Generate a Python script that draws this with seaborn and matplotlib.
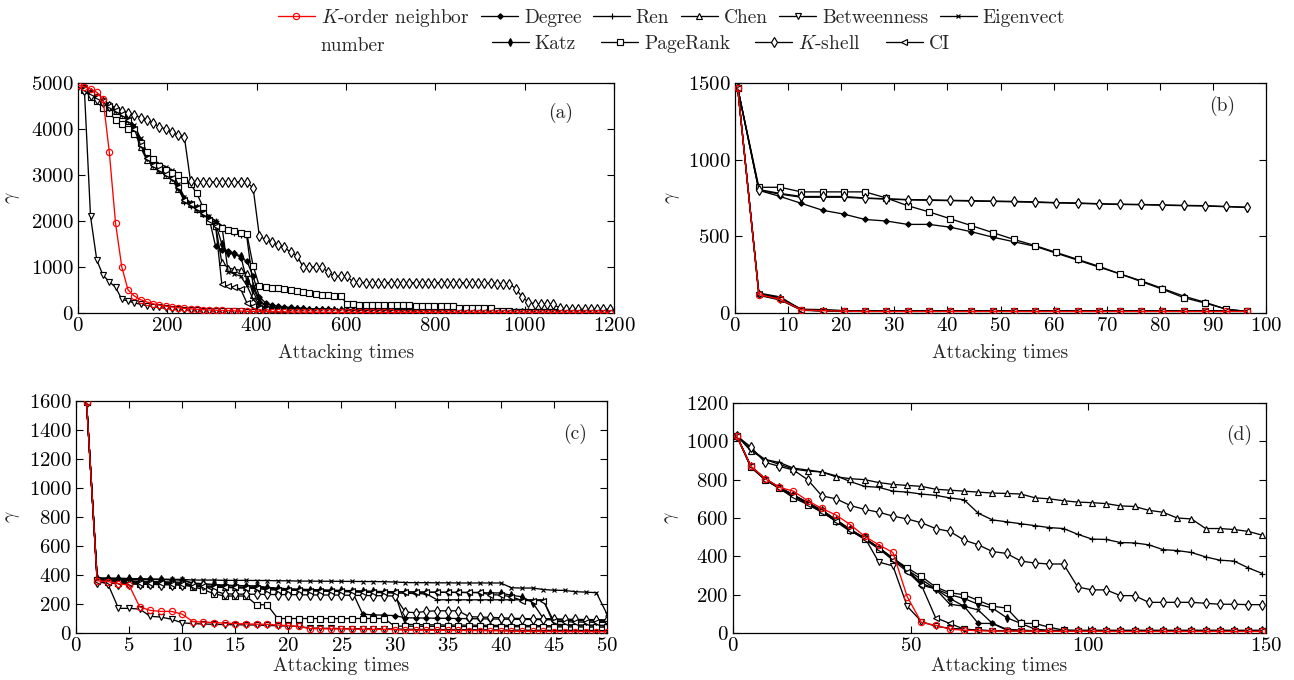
import numpy as np
import pandas as pd
import matplotlib
matplotlib.use("Agg")
import matplotlib.pyplot as plt
import seaborn as sns

# ---------------------------------------------------------------- data
METHODS = ["K-order", "Degree", "Ren", "Chen", "Betweenness",
           "Eigenvect", "Katz", "PageRank", "K-shell", "CI"]

# (a) attacks sampled every 14 steps
A_T = np.arange(0, 1191, 14)
A_KORDER = [4950, 4920, 4870, 4800, 4650, 3500, 1950, 1000, 500, 370,
            290, 240, 200, 170, 150, 130, 115, 100, 90, 80,
            72, 65, 60, 55, 50, 46, 42, 38, 35, 32,
            30, 28, 26, 24, 22, 21, 20, 19, 18, 17,
            16, 15, 15, 14, 14, 13, 13, 12, 12, 11,
            11, 10, 10, 10, 9, 9, 9, 8, 8, 8,
            8, 7, 7, 7, 7, 6, 6, 6, 6, 6,
            5, 5, 5, 5, 5, 5, 5, 4, 4, 4,
            4, 4, 4, 4, 4, 4]
A_DEGREE = [4950, 4880, 4790, 4690, 4600, 4500, 4420, 4330, 4200, 4000,
            3650, 3380, 3230, 3120, 3020, 2930, 2720, 2480, 2380, 2290,
            2190, 2040, 1450, 1380, 1350, 1300, 1200, 1130, 800, 350,
            220, 170, 150, 130, 120, 110, 100, 95, 90, 85,
            80, 76, 72, 70, 67, 64, 62, 60, 58, 56,
            54, 52, 50, 49, 48, 47, 46, 45, 44, 43,
            42, 41, 40, 39, 38, 37, 36, 35, 34, 33,
            32, 31, 30, 30, 29, 28, 28, 27, 26, 26,
            25, 25, 24, 24, 23, 23]
A_REN = [4950, 4870, 4800, 4710, 4610, 4520, 4440, 4350, 4230, 4050,
         3750, 3450, 3280, 3150, 3080, 2980, 2760, 2420, 2330, 2250,
         2150, 2080, 2000, 1850, 1800, 1750, 1700, 1650, 600, 300,
         150, 110, 95, 85, 80, 75, 70, 66, 63, 60,
         58, 55, 53, 51, 49, 47, 45, 44, 42, 41,
         40, 39, 38, 37, 36, 35, 34, 33, 32, 31,
         30, 30, 29, 29, 28, 28, 27, 27, 26, 26,
         25, 25, 24, 24, 23, 23, 22, 22, 21, 21,
         20, 20, 20, 19, 19, 19]
A_CHEN = [4950, 4860, 4780, 4680, 4590, 4480, 4400, 4310, 4180, 3980,
          3600, 3330, 3200, 3100, 3000, 2900, 2700, 2450, 2360, 2270,
          2170, 2000, 1900, 1100, 980, 950, 930, 860, 400, 170,
          120, 100, 90, 82, 76, 70, 66, 62, 58, 55,
          52, 50, 48, 46, 44, 42, 40, 39, 38, 37,
          36, 35, 34, 33, 32, 31, 30, 29, 28, 28,
          27, 27, 26, 26, 25, 25, 24, 24, 23, 23,
          22, 22, 21, 21, 20, 20, 19, 19, 18, 18,
          17, 17, 16, 16, 15, 15]
A_BETW = [4950, 4900, 2100, 1150, 820, 680, 560, 300, 260, 220,
          190, 160, 140, 120, 100, 90, 80, 70, 62, 56,
          50, 46, 42, 40, 38, 36, 34, 32, 30, 29,
          28, 27, 26, 25, 24, 24, 23, 23, 22, 22,
          21, 21, 20, 20, 20, 19, 19, 19, 18, 18,
          18, 17, 17, 17, 16, 16, 16, 15, 15, 15,
          15, 14, 14, 14, 14, 13, 13, 13, 13, 12,
          12, 12, 12, 12, 11, 11, 11, 11, 10, 10,
          10, 10, 10, 10, 10, 10]
A_EIGEN = [4950, 4890, 4810, 4720, 4620, 4540, 4460, 4370, 4250, 4080,
           3800, 3500, 3330, 3250, 3180, 3100, 2800, 2520, 2400, 2310,
           2220, 2100, 2000, 1900, 900, 850, 800, 600, 300, 150,
           100, 85, 75, 68, 62, 58, 55, 52, 50, 48,
           46, 44, 42, 41, 40, 39, 38, 37, 36, 35,
           34, 33, 32, 31, 30, 30, 29, 29, 28, 28,
           27, 27, 26, 26, 25, 25, 24, 24, 23, 23,
           22, 22, 22, 21, 21, 21, 20, 20, 20, 19,
           19, 19, 18, 18, 18, 18]
A_KATZ = [4950, 4880, 4800, 4700, 4600, 4510, 4430, 4340, 4220, 4030,
          3700, 3400, 3250, 3130, 3050, 2960, 2740, 2470, 2370, 2280,
          2180, 2050, 1950, 1500, 1300, 1280, 1250, 700, 550, 250,
          150, 120, 105, 95, 88, 82, 77, 73, 70, 67,
          64, 62, 60, 58, 56, 54, 52, 50, 49, 48,
          47, 46, 45, 44, 43, 42, 41, 40, 39, 38,
          37, 36, 35, 34, 34, 33, 33, 32, 32, 31,
          31, 30, 30, 29, 29, 28, 28, 27, 27, 26,
          26, 25, 25, 25, 24, 24]
A_PAGERANK = [4950, 4850, 4700, 4600, 4450, 4350, 4200, 4100, 4000, 3900,
              3700, 3500, 3350, 3200, 3100, 3050, 3000, 2900, 2800, 2600,
              2300, 2000, 1900, 1850, 1800, 1780, 1750, 1720, 1030, 580,
              560, 550, 540, 520, 490, 470, 450, 430, 410, 400,
              390, 380, 370, 200, 190, 180, 175, 170, 170, 168,
              167, 166, 165, 164, 163, 162, 161, 160, 160, 160,
              160, 115, 112, 110, 108, 105, 100, 50, 40, 35,
              32, 30, 28, 27, 26, 25, 24, 23, 22, 21,
              20, 20, 20, 19, 19, 19]
A_KSHELL = [4950, 4850, 4750, 4650, 4580, 4500, 4450, 4400, 4350, 4300,
            4250, 4200, 4130, 4050, 4000, 3930, 3870, 3830, 2860, 2850,
            2850, 2850, 2850, 2850, 2850, 2850, 2850, 2840, 2720, 1670,
            1600, 1540, 1470, 1430, 1320, 1250, 1000, 1000, 1000, 1000,
            890, 800, 800, 800, 670, 665, 660, 660, 660, 660,
            660, 660, 660, 660, 660, 660, 660, 660, 660, 660,
            660, 660, 660, 655, 650, 650, 645, 640, 640, 635,
            530, 350, 240, 200, 200, 195, 190, 110, 85, 85,
            80, 80, 80, 80, 80, 80]
A_CI = [4950, 4870, 4790, 4700, 4600, 4500, 4420, 4320, 4190, 4000,
        3650, 3370, 3220, 3120, 3030, 2940, 2730, 2460, 2370, 2280,
        2180, 2020, 1900, 620, 580, 560, 520, 220, 150, 100,
        80, 70, 62, 56, 52, 48, 45, 42, 40, 38,
        36, 34, 33, 32, 31, 30, 29, 28, 27, 26,
        26, 25, 25, 24, 24, 23, 23, 22, 22, 21,
        21, 20, 20, 20, 19, 19, 19, 18, 18, 18,
        17, 17, 17, 16, 16, 16, 15, 15, 15, 15,
        14, 14, 14, 14, 13, 13]

# (b) attacks sampled every 4 steps
B_T = np.arange(0.5, 97, 4)
B_KORDER = [1470, 120, 90, 20, 15, 12, 10, 10, 10, 10, 10, 10, 10,
            10, 10, 10, 10, 10, 10, 10, 10, 10, 10, 10, 10]
B_DEGREE = [1470, 800, 760, 715, 670, 645, 610, 600, 578, 578, 560, 530, 495,
            465, 435, 390, 345, 300, 255, 210, 160, 110, 70, 25, 10]
B_REN = [1470, 125, 100, 20, 18, 12, 12, 12, 12, 12, 12, 12, 12,
         12, 12, 12, 12, 12, 12, 12, 12, 12, 12, 12, 12]
B_CHEN = [1470, 130, 105, 22, 20, 15, 15, 15, 15, 15, 15, 15, 15,
          15, 15, 15, 15, 15, 15, 15, 15, 15, 15, 15, 15]
B_BETW = [1470, 115, 85, 18, 12, 10, 10, 10, 10, 10, 10, 10, 10,
          10, 10, 10, 10, 10, 10, 10, 10, 10, 10, 10, 10]
B_EIGEN = [1470, 128, 95, 25, 22, 15, 15, 15, 15, 15, 15, 15, 15,
           15, 15, 15, 15, 15, 15, 15, 15, 15, 15, 15, 15]
B_KATZ = [1470, 800, 775, 755, 755, 755, 748, 743, 738, 735, 733, 730, 728,
          725, 722, 718, 715, 711, 708, 706, 703, 700, 698, 693, 688]
B_PAGERANK = [1470, 820, 820, 790, 790, 790, 790, 750, 700, 660, 615, 570, 525,
              480, 440, 395, 350, 305, 255, 205, 155, 100, 65, 25, 10]
B_KSHELL = [1470, 805, 780, 760, 760, 760, 750, 745, 740, 738, 735, 733, 730,
            728, 725, 720, 718, 713, 710, 708, 705, 702, 700, 695, 690]
B_CI = [1470, 122, 92, 20, 14, 12, 12, 12, 12, 12, 12, 12, 12,
        12, 12, 12, 12, 12, 12, 12, 12, 12, 12, 12, 12]

# (c) every attack
C_T = np.arange(1, 51)
C_KORDER = [1590, 360, 355, 340, 330, 180, 156, 149, 149, 130,
            79, 75, 72, 68, 65, 63, 61, 60, 55, 50,
            45, 30, 30, 28, 28, 27, 26, 25, 25, 24,
            20, 20, 19, 19, 18, 18, 17, 17, 16, 15,
            12, 12, 11, 11, 10, 10, 10, 10, 9, 9]
C_DEGREE = [1590, 375, 375, 373, 372, 371, 370, 369, 368, 367,
            340, 335, 330, 328, 326, 324, 322, 310, 305, 300,
            298, 296, 294, 292, 290, 288, 130, 125, 123, 120,
            105, 104, 103, 102, 101, 100, 99, 98, 97, 96,
            95, 94, 93, 92, 90, 88, 86, 84, 82, 80]
C_REN = [1590, 365, 360, 358, 355, 352, 350, 348, 346, 344,
         320, 318, 316, 314, 312, 310, 308, 300, 298, 296,
         294, 292, 290, 288, 286, 284, 282, 280, 278, 276,
         274, 272, 270, 229, 229, 229, 229, 229, 229, 229,
         229, 229, 229, 229, 60, 58, 56, 55, 54, 53]
C_CHEN = [1590, 370, 365, 362, 360, 358, 356, 354, 352, 350,
          330, 325, 320, 318, 316, 314, 312, 305, 300, 298,
          296, 294, 292, 290, 288, 286, 284, 282, 280, 278,
          60, 58, 57, 56, 55, 55, 54, 54, 53, 53,
          52, 52, 51, 51, 50, 50, 50, 49, 49, 49]
C_BETW = [1590, 360, 340, 170, 170, 165, 115, 110, 95, 70,
          65, 62, 60, 58, 57, 56, 55, 52, 50, 48,
          45, 35, 33, 32, 31, 30, 30, 29, 29, 28,
          26, 25, 25, 24, 24, 23, 23, 22, 22, 21,
          20, 20, 19, 19, 18, 18, 18, 17, 17, 17]
C_EIGEN = [1590, 375, 372, 370, 370, 370, 370, 370, 370, 370,
           365, 365, 365, 363, 363, 363, 362, 362, 360, 360,
           358, 358, 357, 357, 356, 356, 355, 355, 354, 352,
           348, 347, 347, 346, 346, 345, 345, 345, 345, 345,
           312, 310, 310, 300, 295, 294, 285, 282, 278, 130]
C_KATZ = [1590, 380, 380, 378, 376, 374, 372, 370, 368, 366,
          345, 340, 335, 330, 328, 326, 324, 315, 310, 305,
          303, 300, 298, 296, 294, 292, 290, 288, 286, 285,
          284, 283, 282, 281, 280, 280, 279, 278, 277, 276,
          260, 250, 210, 100, 95, 93, 92, 90, 88, 86]
C_PAGERANK = [1590, 365, 350, 345, 342, 340, 338, 335, 333, 330,
              320, 300, 270, 255, 255, 255, 195, 195, 100, 100,
              100, 100, 100, 100, 100, 100, 100, 100, 100, 48,
              47, 47, 46, 46, 46, 45, 45, 45, 44, 44,
              44, 43, 43, 43, 42, 42, 42, 41, 41, 40]
C_KSHELL = [1590, 350, 345, 340, 338, 336, 335, 334, 333, 332,
            330, 328, 290, 270, 268, 268, 267, 266, 265, 265,
            264, 263, 262, 262, 261, 260, 259, 258, 257, 255,
            145, 140, 150, 153, 153, 153, 113, 110, 108, 105,
            102, 100, 98, 97, 96, 95, 94, 93, 92, 90]
C_CI = [1590, 360, 355, 350, 348, 346, 344, 342, 340, 338,
        325, 322, 318, 316, 314, 312, 310, 300, 298, 296,
        294, 292, 290, 289, 288, 287, 286, 285, 284, 283,
        282, 282, 281, 281, 281, 280, 280, 280, 264, 262,
        250, 224, 224, 224, 80, 78, 76, 75, 74, 73]

# (d) attacks sampled every 4 steps
D_T = np.arange(1, 150, 4)
D_KORDER = [1030, 870, 805, 760, 740, 690, 650, 615, 565, 505,
            460, 420, 190, 55, 40, 20, 15, 12, 10, 10,
            10, 10, 9, 9, 9, 9, 8, 8, 8, 8,
            8, 8, 8, 8, 8, 8, 8, 8]
D_DEGREE = [1030, 870, 805, 760, 720, 680, 640, 590, 540, 495,
            445, 390, 330, 250, 230, 180, 140, 50, 50, 15,
            12, 12, 12, 12, 12, 12, 12, 12, 12, 12,
            12, 12, 12, 12, 12, 12, 12, 12]
D_REN = [1030, 960, 905, 890, 860, 850, 840, 820, 790, 765,
         760, 740, 735, 725, 718, 705, 695, 625, 590, 580,
         570, 560, 550, 545, 515, 490, 488, 472, 470, 460,
         435, 430, 420, 397, 380, 375, 340, 310]
D_CHEN = [1030, 950, 905, 880, 855, 845, 840, 815, 805, 800,
          785, 775, 770, 765, 750, 745, 740, 735, 730, 728,
          725, 705, 700, 690, 683, 680, 675, 663, 660, 640,
          630, 600, 595, 545, 545, 540, 530, 510]
D_BETW = [1030, 865, 800, 755, 715, 675, 635, 580, 530, 500,
          370, 350, 140, 60, 35, 25, 20, 15, 12, 12,
          12, 11, 11, 11, 11, 10, 10, 10, 10, 10,
          10, 10, 10, 10, 10, 10, 10, 10]
D_EIGEN = [1030, 870, 805, 760, 720, 680, 640, 590, 540, 495,
           445, 390, 330, 260, 230, 150, 140, 120, 50, 20,
           15, 12, 12, 12, 12, 12, 12, 12, 12, 12,
           12, 12, 12, 12, 12, 12, 12, 12]
D_KATZ = [1030, 870, 805, 760, 720, 680, 640, 590, 540, 495,
          445, 390, 330, 280, 230, 200, 180, 150, 130, 80,
          50, 20, 14, 14, 14, 14, 14, 14, 14, 14,
          14, 14, 14, 14, 14, 14, 14, 14]
D_PAGERANK = [1030, 865, 800, 755, 705, 670, 630, 585, 535, 490,
              440, 390, 340, 295, 240, 210, 200, 170, 140, 130,
              50, 50, 30, 15, 13, 13, 13, 13, 13, 13,
              13, 13, 13, 13, 13, 13, 13, 13]
D_KSHELL = [1030, 970, 890, 870, 850, 800, 715, 700, 665, 645,
            630, 610, 595, 575, 545, 530, 485, 460, 425, 415,
            375, 365, 360, 360, 240, 225, 225, 195, 195, 160,
            160, 160, 160, 155, 150, 150, 148, 148]
D_CI = [1030, 870, 800, 755, 715, 675, 630, 585, 535, 490,
        440, 380, 320, 250, 80, 50, 20, 15, 12, 12,
        12, 12, 12, 12, 12, 12, 12, 12, 12, 12,
        12, 12, 12, 12, 12, 12, 12, 12]

PANEL_DATA = {
    "a": (A_T, [A_KORDER, A_DEGREE, A_REN, A_CHEN, A_BETW,
                A_EIGEN, A_KATZ, A_PAGERANK, A_KSHELL, A_CI]),
    "b": (B_T, [B_KORDER, B_DEGREE, B_REN, B_CHEN, B_BETW,
                B_EIGEN, B_KATZ, B_PAGERANK, B_KSHELL, B_CI]),
    "c": (C_T, [C_KORDER, C_DEGREE, C_REN, C_CHEN, C_BETW,
                C_EIGEN, C_KATZ, C_PAGERANK, C_KSHELL, C_CI]),
    "d": (D_T, [D_KORDER, D_DEGREE, D_REN, D_CHEN, D_BETW,
                D_EIGEN, D_KATZ, D_PAGERANK, D_KSHELL, D_CI]),
}

# ---------------------------------------------------------------- style
sns.set_theme(style="ticks")
plt.rcParams.update({
    "font.family": ["cmr10", "DejaVu Serif"],
    "mathtext.fontset": "cm",
    "axes.formatter.use_mathtext": True,
    "axes.unicode_minus": False,
    "font.size": 14,
    "axes.edgecolor": "black",
    "axes.linewidth": 0.9,
    "xtick.color": "black",
    "ytick.color": "black",
})

MARKERS = {
    "K-order":     dict(marker="o", ms=4.5, mfc="none"),
    "Degree":      dict(marker="D", ms=2.8, mfc="black"),
    "Ren":         dict(marker="+", ms=5.0, mfc="black"),
    "Chen":        dict(marker="^", ms=4.5, mfc="white"),
    "Betweenness": dict(marker="v", ms=4.5, mfc="white"),
    "Eigenvect":   dict(marker="x", ms=3.5, mfc="black"),
    "Katz":        dict(marker="d", ms=4.2, mfc="black"),
    "PageRank":    dict(marker="s", ms=3.8, mfc="white"),
    "K-shell":     dict(marker="d", ms=5.5, mfc="white"),
    "CI":          dict(marker="<", ms=4.5, mfc="white"),
}
COLORS = {m: "black" for m in METHODS}
COLORS["K-order"] = "red"

PANELS = [
    # key, rect, xlim, xticks, ylim, yticks, tag xy, ylabel x, xlabel pad
    ("a", [0.0603, 0.5397, 0.4142, 0.3382], (0, 1200), np.arange(0, 1201, 200),
     (0, 5000), np.arange(0, 5001, 1000), (0.90, 0.87), -0.105, 6),
    ("b", [0.5680, 0.5397, 0.4104, 0.3382], (0, 100), np.arange(0, 101, 10),
     (0, 1500), np.arange(0, 1501, 500), (0.917, 0.90), -0.100, 6),
    ("c", [0.0587, 0.0691, 0.4104, 0.3412], (0, 50), np.arange(0, 51, 5),
     (0, 1600), np.arange(0, 1601, 200), (0.94, 0.86), -0.102, 1),
    ("d", [0.5665, 0.0691, 0.4119, 0.3383], (0, 150), np.arange(0, 151, 50),
     (0, 1200), np.arange(0, 1201, 200), (0.95, 0.86), -0.097, 1),
]

fig = plt.figure(figsize=(12.94, 6.80), dpi=100)
axes = {}
for key, rect, xlim, xticks, ylim, yticks, tagxy, ylx, xpad in PANELS:
    ax = fig.add_axes(rect)
    axes[key] = ax
    t, series = PANEL_DATA[key]
    frame = pd.concat(
        [pd.DataFrame({"t": t, "gamma": vals, "method": name})
         for name, vals in zip(METHODS, series)],
        ignore_index=True)
    # black curves first, the proposed measure on top
    order = METHODS[1:] + METHODS[:1]
    for name in order:
        sub = frame[frame["method"] == name]
        st = MARKERS[name]
        c = COLORS[name]
        sns.lineplot(data=sub, x="t", y="gamma", ax=ax, color=c,
                     marker=st["marker"], markersize=st["ms"],
                     markerfacecolor=st["mfc"] if st["mfc"] != "black" else c,
                     markeredgecolor=c, markeredgewidth=0.85,
                     linewidth=0.95, estimator=None, sort=False,
                     legend=False, label=name,
                     zorder=3 if name == "K-order" else 2)
    ax.set_xlim(*xlim)
    ax.set_ylim(*ylim)
    ax.set_xticks(xticks)
    ax.set_yticks(yticks)
    ax.tick_params(direction="in", top=True, right=True, length=5,
                   width=0.8, labelsize=15, pad=3)
    ax.set_xlabel("Attacking times", fontsize=14, labelpad=xpad)
    ax.set_ylabel(r"$\gamma$", fontsize=14)
    ax.yaxis.set_label_coords(ylx, 0.5)
    ax.text(tagxy[0], tagxy[1], f"({key})", transform=ax.transAxes,
            ha="center", va="center", fontsize=14)
    for s in ax.spines.values():
        s.set_color("black")
        s.set_linewidth(0.9)

# ---------------------------------------------------------------- legend
handles, labels = axes["a"].get_legend_handles_labels()
h = dict(zip(labels, handles))
DISPLAY = {"K-order": r"$K$-order neighbor", "K-shell": r"$K$-shell"}
row1 = ["K-order", "Degree", "Ren", "Chen", "Betweenness", "Eigenvect"]
row2 = ["Katz", "PageRank", "K-shell", "CI"]
common = dict(frameon=False, fontsize=14, handlelength=1.9, handletextpad=0.3,
              borderpad=0, borderaxespad=0, loc="upper left")
leg1 = fig.legend([h[m] for m in row1], [DISPLAY.get(m, m) for m in row1],
                  ncol=len(row1), columnspacing=0.6,
                  bbox_to_anchor=(278 / 1294, 1 - 7 / 680), **common)
leg2 = fig.legend([h[m] for m in row2], [DISPLAY.get(m, m) for m in row2],
                  ncol=len(row2), columnspacing=1.3,
                  bbox_to_anchor=(492 / 1294, 1 - 35 / 680), **common)
fig.text(320 / 1294, 1 - 46 / 680, "number", fontsize=14,
         ha="left", va="center")

fig.savefig("out.png", dpi=100, facecolor="white")
